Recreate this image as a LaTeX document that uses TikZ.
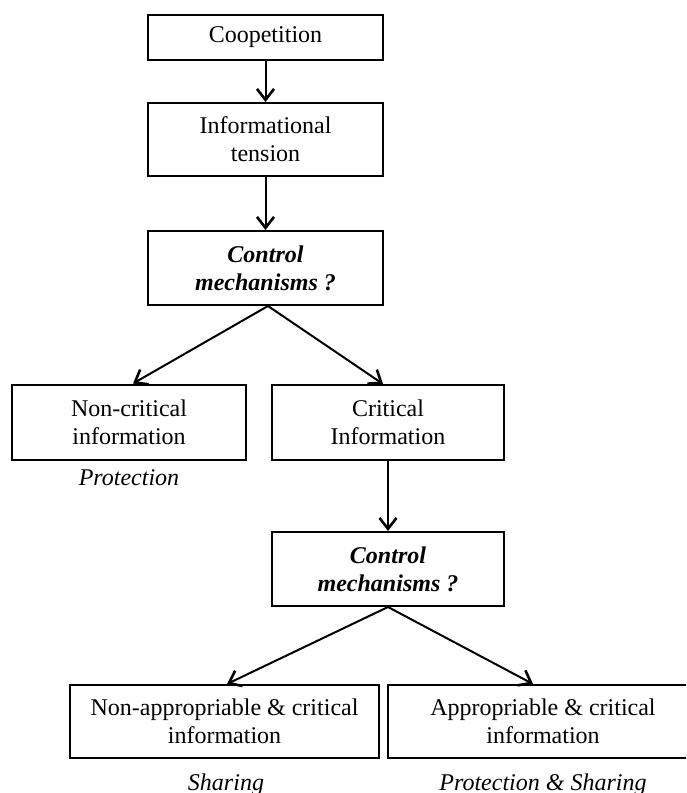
\documentclass[tikz,border=0pt]{standalone}
\usepackage{fontspec}
\setmainfont{Liberation Serif}
\usetikzlibrary{arrows.meta}
\begin{document}
\begin{tikzpicture}[x=1pt,y=-1pt,
  box/.style={draw, line width=2pt, inner sep=0pt, align=center,
    font=\fontsize{24}{28}\selectfont},
  lbl/.style={inner sep=0pt, font=\fontsize{24}{28}\selectfont\itshape},
  arr/.style={line width=2pt, -{Straight Barb[length=11pt,width=17pt,line width=2.6pt]}}]
\useasboundingbox (0,0) rectangle (686,793);
\clip (0,0) rectangle (686,793);
\node[box, minimum width=235pt, minimum height=45pt] (coop) at (265.5,37.5) {Coopetition};
\node[box, minimum width=235pt, minimum height=73pt] (tens) at (265.5,139.5) {Informational\\tension};
\node[box, minimum width=235pt, minimum height=74pt] (ctrl1) at (265.5,268) {\bfseries\itshape Control\\\bfseries\itshape mechanisms ?};
\node[box, minimum width=234pt, minimum height=75pt] (noncrit) at (129,422) {Non-critical\\information};
\node[box, minimum width=232pt, minimum height=75pt] (crit) at (388,422.5) {Critical\\Information};
\node[lbl] (prot) at (129,478) {Protection};
\node[box, minimum width=232pt, minimum height=74pt] (ctrl2) at (388,569) {\bfseries\itshape Control\\\bfseries\itshape mechanisms ?};
\node[box, minimum width=309pt, minimum height=73pt] (nonapp) at (224.5,721.5) {Non-appropriable \& critical\\information};
\node[box, minimum width=310pt, minimum height=73pt] (app) at (543,721.5) {Appropriable \& critical\\information};
\node[lbl] (shar) at (226,785) {Sharing};
\node[lbl] (protshar) at (543,785) {Protection \& Sharing};
\draw[arr] (coop) -- (tens);
\draw[arr] (tens) -- (ctrl1);
\draw[arr] ([xshift=2.5pt]ctrl1.south) -- ([xshift=4pt]noncrit.north);
\draw[arr] ([xshift=2.5pt]ctrl1.south) -- ([xshift=-5pt]crit.north);
\draw[arr] (crit) -- (ctrl2);
\draw[arr] (ctrl2.south) -- ([xshift=2.5pt]nonapp.north);
\draw[arr] (ctrl2.south) -- ([xshift=-10pt]app.north);
\end{tikzpicture}
\end{document}
